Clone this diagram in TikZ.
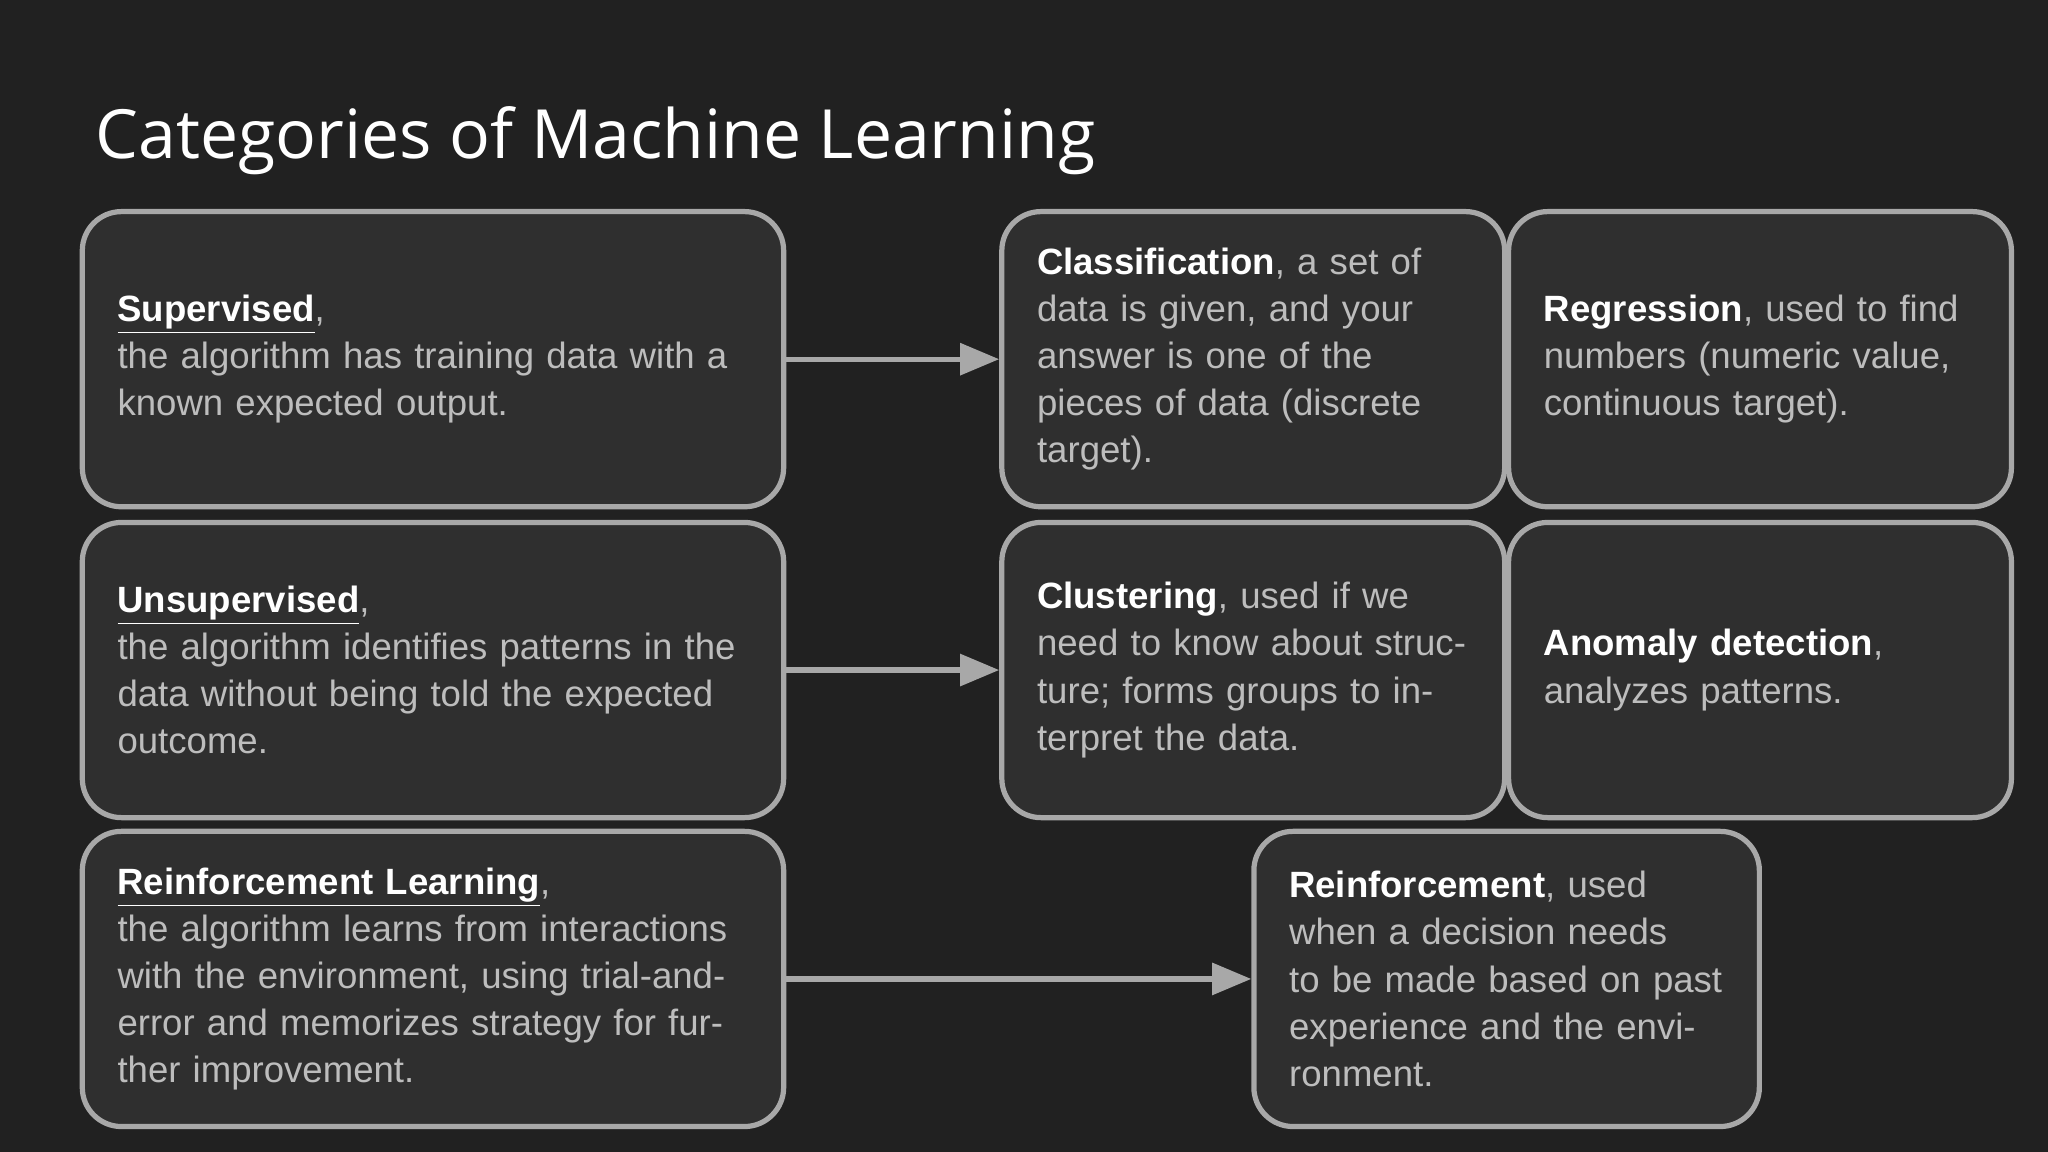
\documentclass[tikz,border=0pt]{standalone}
\usepackage{fontspec}
\setmainfont{Liberation Sans}
\newfontfamily\titlefont{Open Sans}
\usetikzlibrary{arrows.meta}
\definecolor{bg}{HTML}{212121}
\definecolor{boxfill}{HTML}{2F2F2F}
\definecolor{edge}{HTML}{A8A8A8}
\definecolor{txt}{HTML}{BDBDBD}
\newcommand{\hd}[1]{\textbf{\color{white}#1}}
\newcommand{\hu}[1]{\textbf{\color{white}\underline{#1}}}
\begin{document}
\begin{tikzpicture}[x=0.5pt,y=-0.5pt,
  card/.style={draw=edge,line width=2pt,fill=boxfill,rounded corners=15pt,
    minimum height=113pt,inner xsep=13.5pt,inner ysep=0pt,align=left,
    text=txt,font=\fontsize{14}{18}\selectfont},
  wide/.style={card,minimum width=268.5pt,text width=241.5pt},
  narrow/.style={card,minimum width=192.5pt,text width=165.5pt},
  link/.style={draw=edge,line width=2pt,-{Triangle[length=15pt,width=12pt]}}]
\fill[bg] (0,0) rectangle (1568,882);
\useasboundingbox (0,0) rectangle (1568,882);
\node[anchor=west,text=white,font=\titlefont\fontsize{26}{30}\selectfont] (title) at (66,108) {Categories of Machine Learning};
\node[wide] (sup) at (331.5,275) {\hu{Supervised},\\the algorithm has training data with a known expected output.};
\node[wide] (uns) at (331.5,513) {\hu{Unsupervised},\\the algorithm identifies patterns in the data without being told the expected outcome.};
\node[wide] (rl) at (331.5,749.5) {\hu{Reinforcement Learning},\\the algorithm learns from interactions with the environment, using trial-and-error and memorizes strategy for further improvement.};
\node[narrow] (cls) at (959.5,275) {\hd{Classification}, a set of data is given, and your answer is one of the pieces of data (discrete target).};
\node[narrow] (reg) at (1347.5,275) {\hd{Regression}, used to find numbers (numeric value, continuous target).};
\node[narrow] (clu) at (959.5,513) {\hd{Clustering}, used if we need to know about structure; forms groups to interpret the data.};
\node[narrow] (ano) at (1347.5,513) {\hd{Anomaly detection},\\analyzes patterns.};
\node[card,minimum width=193.5pt,text width=166.5pt] (rei) at (1153.5,749.5) {\hd{Reinforcement}, used when a decision needs to be made based on past experience and the environment.};
\draw[link] (sup) -- (cls);
\draw[link] (uns) -- (clu);
\draw[link] (rl) -- (rei);
\end{tikzpicture}
\end{document}
